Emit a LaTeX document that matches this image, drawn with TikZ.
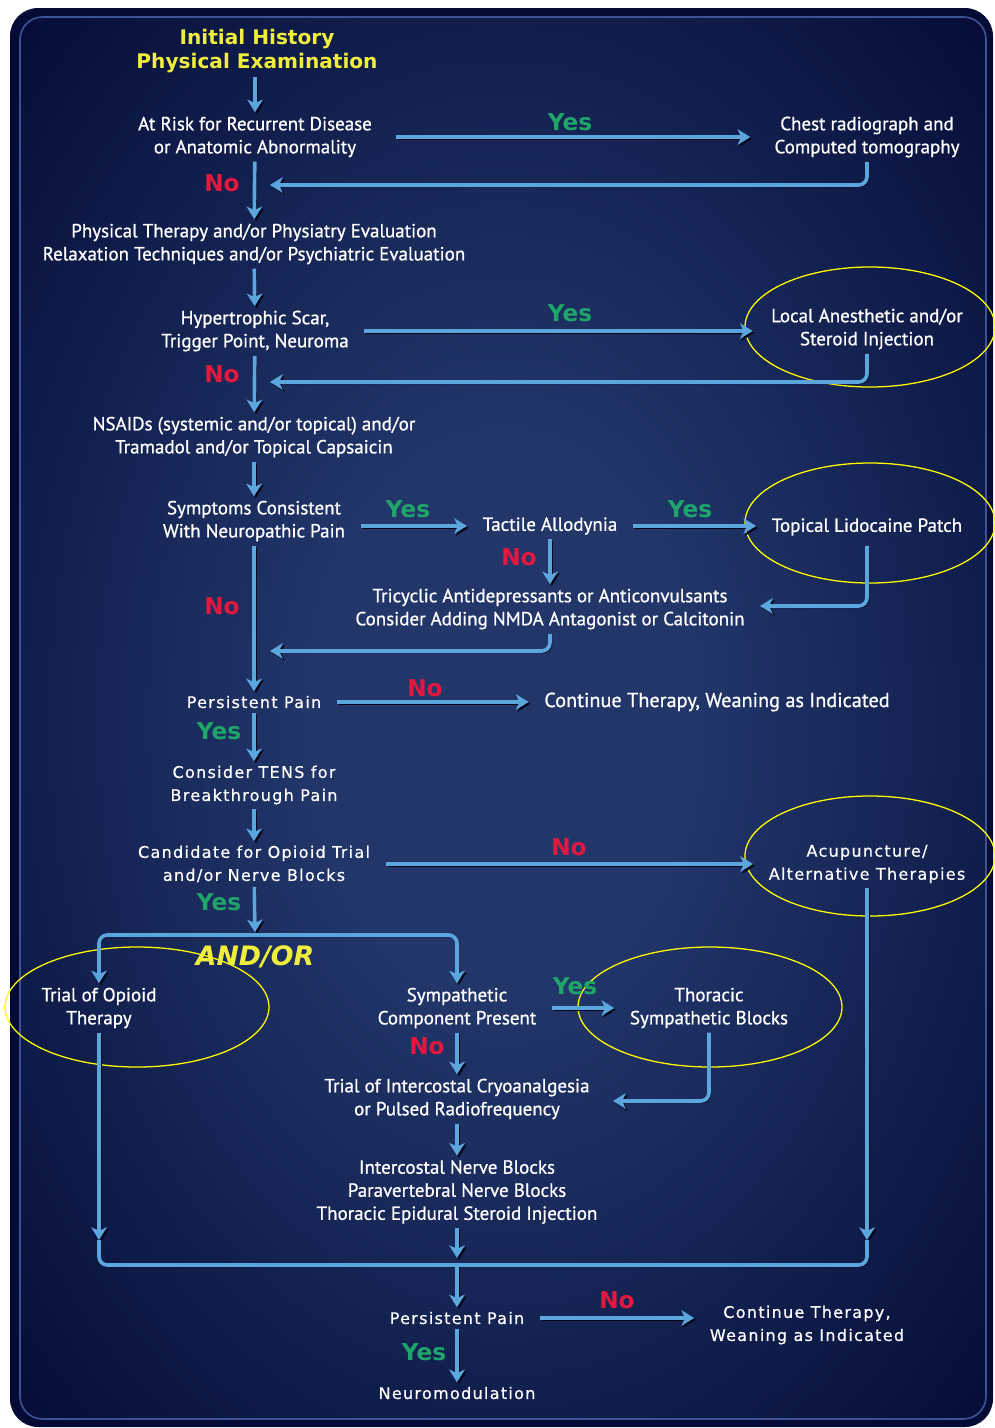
\documentclass[tikz,border=0pt]{standalone}
\usepackage{fontspec}
\usetikzlibrary{arrows.meta, positioning, calc}
\newfontfamily\myriad[FakeBold=0.8]{PT Sans}
\newfontfamily\verd[LetterSpace=8, FakeBold=0.5]{DejaVu Sans}
\newfontfamily\verdb{DejaVu Sans}[BoldFont={DejaVu Sans Bold}]
\definecolor{panel}{RGB}{4,12,54}
\definecolor{glow}{RGB}{34,54,106}
\definecolor{rim}{RGB}{62,80,150}
\definecolor{flowblue}{RGB}{92,166,222}
\definecolor{shadow}{RGB}{2,6,24}
\definecolor{yesgreen}{RGB}{30,166,106}
\definecolor{nored}{RGB}{228,24,62}
\definecolor{titleyellow}{RGB}{240,238,60}
\definecolor{ringyellow}{RGB}{255,255,0}
\pgfdeclareradialshading{panelglow}{\pgfpoint{0bp}{0bp}}{color(0bp)=(glow); color(10bp)=(glow); color(36bp)=(panel); color(50bp)=(panel)}

\begin{document}
\begin{tikzpicture}[x=0.025cm, y=-0.025cm,
  box/.style={text=white, align=center, inner sep=3pt, font=\myriad\fontsize{13.5}{16.4}\selectfont},
  wide/.style={box, font=\verd\fontsize{11.4}{16.4}\selectfont},
  yes/.style={text=yesgreen, font=\verdb\bfseries\fontsize{16.5}{18}\selectfont},
  no/.style={text=nored, font=\verdb\bfseries\fontsize{16.5}{18}\selectfont},
  flow/.style={draw=flowblue, line width=2.6pt, rounded corners=6pt, -{Stealth[length=9pt, width=11pt, inset=2.5pt]},
    preaction={draw=shadow, transform canvas={shift={(1.3pt,-1.3pt)}}}},
  bar/.style={draw=flowblue, line width=2.6pt, rounded corners=6pt,
    preaction={draw=shadow, transform canvas={shift={(1.3pt,-1.3pt)}}}},
  ring/.style={draw=ringyellow, line width=0.9pt}]
  \useasboundingbox (0,0) rectangle (994,1428);
  % panel
  \fill[white] (0,0) rectangle (994,1428);
  \fill[panel, rounded corners=20pt] (10,8) rectangle (993,1427);
  \shade[shading=panelglow, rounded corners=16pt] (20,17) rectangle (986,1419);
  \draw[rim, line width=1.2pt, rounded corners=16pt] (20,17) rectangle (986,1419);

  % nodes
  \node[box, text=titleyellow, font=\verdb\bfseries\fontsize{14.3}{16.4}\selectfont] (start) at (257,51) {Initial History\\Physical Examination};
  \node[box] (risk) at (255,137) {At Risk for Recurrent Disease\\or Anatomic Abnormality};
  \node[box] (chest) at (867,137) {Chest radiograph and\\Computed tomography};
  \node[box] (physio) at (254,244) {Physical Therapy and/or Physiatry Evaluation\\Relaxation Techniques and/or Psychiatric Evaluation};
  \node[box] (scar) at (255,331) {Hypertrophic Scar,\\Trigger Point, Neuroma};
  \node[box] (local) at (867,329) {Local Anesthetic and/or\\Steroid Injection};
  \node[box] (nsaid) at (254,437) {NSAIDs (systemic and/or topical) and/or\\Tramadol and/or Topical Capsaicin};
  \node[box] (neuro) at (254,521) {Symptoms Consistent\\With Neuropathic Pain};
  \node[box] (tactile) at (550,526) {Tactile Allodynia};
  \node[box] (lido) at (867,527) {Topical Lidocaine Patch};
  \node[box] (tricyc) at (550,609) {Tricyclic Antidepressants or Anticonvulsants\\Consider Adding NMDA Antagonist or Calcitonin};
  \node[wide] (pain1) at (254,702) {Persistent Pain};
  \node[box, font=\myriad\fontsize{14.4}{16.4}\selectfont] (cont1) at (717,702) {Continue Therapy, Weaning as Indicated};
  \node[wide] (tens) at (254,785) {Consider TENS for\\Breakthrough Pain};
  \node[wide] (cand) at (254,864) {Candidate for Opioid Trial\\and/or Nerve Blocks};
  \node[wide] (acu) at (867,864) {Acupuncture/\\Alternative Therapies};
  \node[box] (opioid) at (99,1008) {Trial of Opioid\\Therapy};
  \node[box] (symp) at (457,1008) {Sympathetic\\Component Present};
  \node[box] (thor) at (709,1008) {Thoracic\\Sympathetic Blocks};
  \node[box] (cryo) at (457,1099) {Trial of Intercostal Cryoanalgesia\\or Pulsed Radiofrequency};
  \node[box] (blocks) at (457,1192) {Intercostal Nerve Blocks\\Paravertebral Nerve Blocks\\Thoracic Epidural Steroid Injection};
  \node[wide] (pain2) at (457,1318) {Persistent Pain};
  \node[wide] (cont2) at (807,1325) {Continue Therapy,\\Weaning as Indicated};
  \node[wide] (modul) at (457,1393) {Neuromodulation};

  % highlight rings
  \draw[ring] (870,327) ellipse [x radius=125, y radius=60];
  \draw[ring] (870,523) ellipse [x radius=125, y radius=60];
  \draw[ring] (870,856) ellipse [x radius=125, y radius=60];
  \draw[ring] (137,1007) ellipse [x radius=132, y radius=60];
  \draw[ring] (710,1007) ellipse [x radius=132, y radius=60];

  % return points
  \coordinate (back1) at (270,185);
  \coordinate (back2) at (270,382);
  \coordinate (back3) at (760,606);
  \coordinate (back4) at (270,651);
  \coordinate (split) at (255,935);
  \coordinate (back5) at (613,1101);
  \coordinate (joinL) at (99,1240);
  \coordinate (joinR) at (867,1240);
  \coordinate (joinC) at (457,1265);

  % connectors
  \draw[flow] (start.south -| risk) -- (risk);
  \draw[flow, shorten <=14pt, shorten >=14pt] (risk) -- (chest);
  \draw[flow] (chest.south) |- (back1);
  \draw[flow] (risk) -- (physio);
  \draw[flow] (physio) -- (scar);
  \draw[flow, shorten <=8pt, shorten >=10pt] (scar.east) -- (scar.east -| local.west);
  \draw[flow] (local.south) |- (back2);
  \draw[flow] (scar) -- (nsaid);
  \draw[flow] (nsaid) -- (neuro);
  \draw[flow, shorten <=8pt, shorten >=8pt] (neuro.east |- tactile) -- (tactile);
  \draw[flow, shorten <=8pt, shorten >=8pt] (tactile) -- (tactile -| lido.west);
  \draw[flow] (tactile) -- (tricyc);
  \draw[flow, shorten <=4pt] (lido.south) |- (back3);
  \draw[flow] (tricyc.south) |- (back4);
  \draw[flow] (neuro) -- (pain1);
  \draw[flow, shorten <=8pt, shorten >=8pt] (pain1) -- (cont1);
  \draw[flow] (pain1) -- (tens);
  \draw[flow] (tens) -- (cand);
  \draw[flow, shorten <=8pt, shorten >=8pt] (cand) -- (acu);
  \draw[flow, shorten >=2pt] (cand) -- (split);
  \draw[flow] (split) -| (opioid.north);
  \draw[flow] (split) -| (symp.north);
  \draw[flow, shorten <=8pt, shorten >=8pt] (symp.east |- thor) -- (thor);
  \draw[flow] (symp) -- (cryo);
  \draw[flow] (thor.south) |- (back5);
  \draw[flow] (cryo) -- (blocks);
  \draw[flow] (opioid) -- (joinL);
  \draw[flow] (acu) -- (joinR);
  \draw[bar] (joinL) |- (joinC) -| (joinR);
  \draw[flow, shorten >=5pt] (blocks) -- (joinC);
  \draw[flow] (joinC) -- (pain2);
  \draw[flow, shorten <=8pt, shorten >=8pt] (pain2) -- (cont2.west |- pain2);
  \draw[flow] (pain2) -- (modul);

  % branch labels
  \node[yes] (y1) at (570,122) {Yes};
  \node[no] (n1) at (222,183) {No};
  \node[yes] (y2) at (570,313) {Yes};
  \node[no] (n2) at (222,374) {No};
  \node[yes] (y3) at (408,509) {Yes};
  \node[yes] (y4) at (690,509) {Yes};
  \node[no] (n3) at (519,557) {No};
  \node[no] (n4) at (222,606) {No};
  \node[no] (n5) at (425,688) {No};
  \node[yes] (y5) at (219,731) {Yes};
  \node[no] (n6) at (569,847) {No};
  \node[yes] (y6) at (219,902) {Yes};
  \node[text=titleyellow, font=\verdb\bfseries\itshape\fontsize{19}{22}\selectfont] (andor) at (255,957) {AND/OR};
  \node[yes] (y7) at (575,986) {Yes};
  \node[no] (n7) at (427,1046) {No};
  \node[no] (n8) at (617,1300) {No};
  \node[yes] (y8) at (424,1352) {Yes};
\end{tikzpicture}
\end{document}
